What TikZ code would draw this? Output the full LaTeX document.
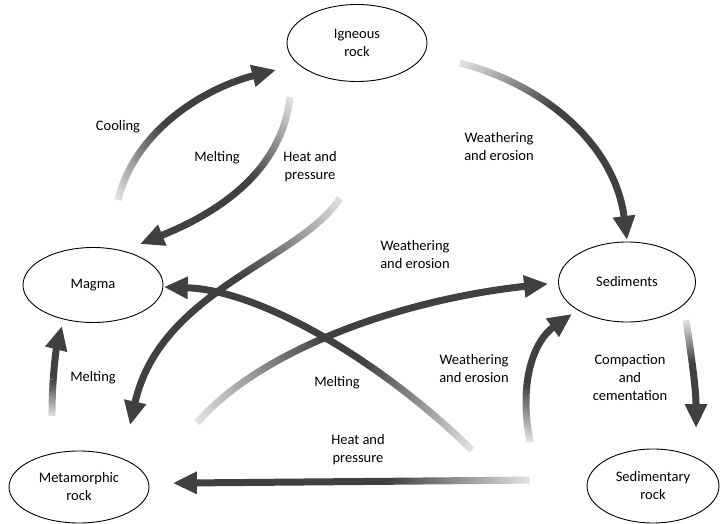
\documentclass[tikz,border=0pt]{standalone}
\usepackage{fontspec}
\setmainfont{Carlito}
\usetikzlibrary{shapes.geometric,arrows.meta,fadings}
\begin{tikzfadingfrompicture}[name=tailfade]
  \fill[transparent!0] (0bp,-600bp) rectangle (600bp,600bp);
  \shade[left color=transparent!85, right color=transparent!0] (-100bp,-600bp) rectangle (0bp,600bp);
  \fill[transparent!85] (-600bp,-600bp) rectangle (-100bp,600bp);
\end{tikzfadingfrompicture}
\begin{document}
\begin{tikzpicture}[x=1pt,y=-1pt,
  txt/.style={font=\fontsize{14.5}{18}\selectfont, align=center, inner sep=0pt},
  rock/.style={ellipse, draw, line width=0.9pt, inner sep=0pt, txt},
  flow/.style n args={4}{line width=7pt, draw=arrowgray, -{Triangle[length=24pt,width=21pt]},
     path fading=tailfade, fit fading=false,
     fading transform={shift={(#1,#2)}, rotate=#3, scale=#4}},
]
\definecolor{arrowgray}{HTML}{404040}
\useasboundingbox (0,0) rectangle (721,524);

% rocks
\node[rock, minimum width=140pt, minimum height=77pt] (igneous) at (357,43) {Igneous\\rock};
\node[rock, minimum width=140pt, minimum height=75pt] (magma) at (93,285) {Magma};
\node[rock, minimum width=137pt, minimum height=80pt] (sediments) at (627,282) {Sediments};
\node[rock, minimum width=140pt, minimum height=72pt] (meta) at (79,487) {Metamorphic\\rock};
\node[rock, minimum width=132pt, minimum height=74pt] (sedrock) at (653,486) {Sedimentary\\rock};

% connector ends
\coordinate (coolT) at (118,200);  \coordinate (coolH) at (276,70);
\coordinate (meltAT) at (290,97);  \coordinate (meltAH) at (140,244);
\coordinate (heatAT) at (340,198); \coordinate (heatAH) at (130,425);
\coordinate (weaAT) at (460,63);   \coordinate (weaAH) at (627,240);
\coordinate (weaBT) at (197,423);  \coordinate (weaBH) at (548,284);
\coordinate (meltBT) at (472,450); \coordinate (meltBH) at (164,287);
\coordinate (heatBT) at (530,480); \coordinate (heatBH) at (173,483);
\coordinate (weaCT) at (530,442);  \coordinate (weaCH) at (572,314);
\coordinate (compT) at (686,320);  \coordinate (compH) at (696,428);
\coordinate (meltCT) at (52,416);  \coordinate (meltCH) at (62,326);

% connectors
\draw[flow={181.2}{148}{39.4}{0.818}] (coolT) .. controls (135,130) and (205,88) .. (coolH);
\draw[flow={230}{155.8}{224.4}{0.84}] (meltAT) .. controls (282,170) and (220,212) .. (meltAH);
\draw[flow={256}{288.8}{227.2}{1.236}] (heatAT) .. controls (300,260) and (160,290) .. (heatAH);
\draw[flow={526.8}{133.8}{-46.7}{0.973}] (weaAT) .. controls (545,85) and (615,145) .. (weaAH);
\draw[flow={337.4}{367.4}{21.6}{1.51}] (weaBT) .. controls (260,350) and (400,300) .. (weaBH);
\draw[flow={348.8}{384.8}{152.1}{1.394}] (meltBT) .. controls (380,360) and (260,290) .. (meltBH);
\draw[flow={387.2}{481.2}{180}{1.428}] (heatBT) -- (heatBH);
\draw[flow={546.8}{390.8}{71.8}{0.539}] (weaCT) .. controls (518,380) and (535,340) .. (weaCH);
\draw[flow={690}{363.2}{-84.7}{0.434}] (compT) .. controls (692,360) and (696,390) .. (compH);
\draw[flow={56}{380}{83.7}{0.362}] (meltCT) .. controls (52,380) and (56,350) .. (meltCH);

% labels
\node[txt] (lcool) at (118,127) {Cooling};
\node[txt] (lmeltA) at (217,158) {Melting};
\node[txt] (lheatA) at (310,167) {Heat and\\pressure};
\node[txt] (lweaA) at (499,147) {Weathering\\and erosion};
\node[txt] (lweaB) at (415,255) {Weathering\\and erosion};
\node[txt] (lweaC) at (474,369) {Weathering\\and erosion};
\node[txt] (lcomp) at (630,378) {Compaction\\and\\cementation};
\node[txt] (lmeltB) at (337,383) {Melting};
\node[txt] (lheatB) at (358,450) {Heat and\\pressure};
\node[txt] (lmeltC) at (93,378) {Melting};
\end{tikzpicture}
\end{document}
